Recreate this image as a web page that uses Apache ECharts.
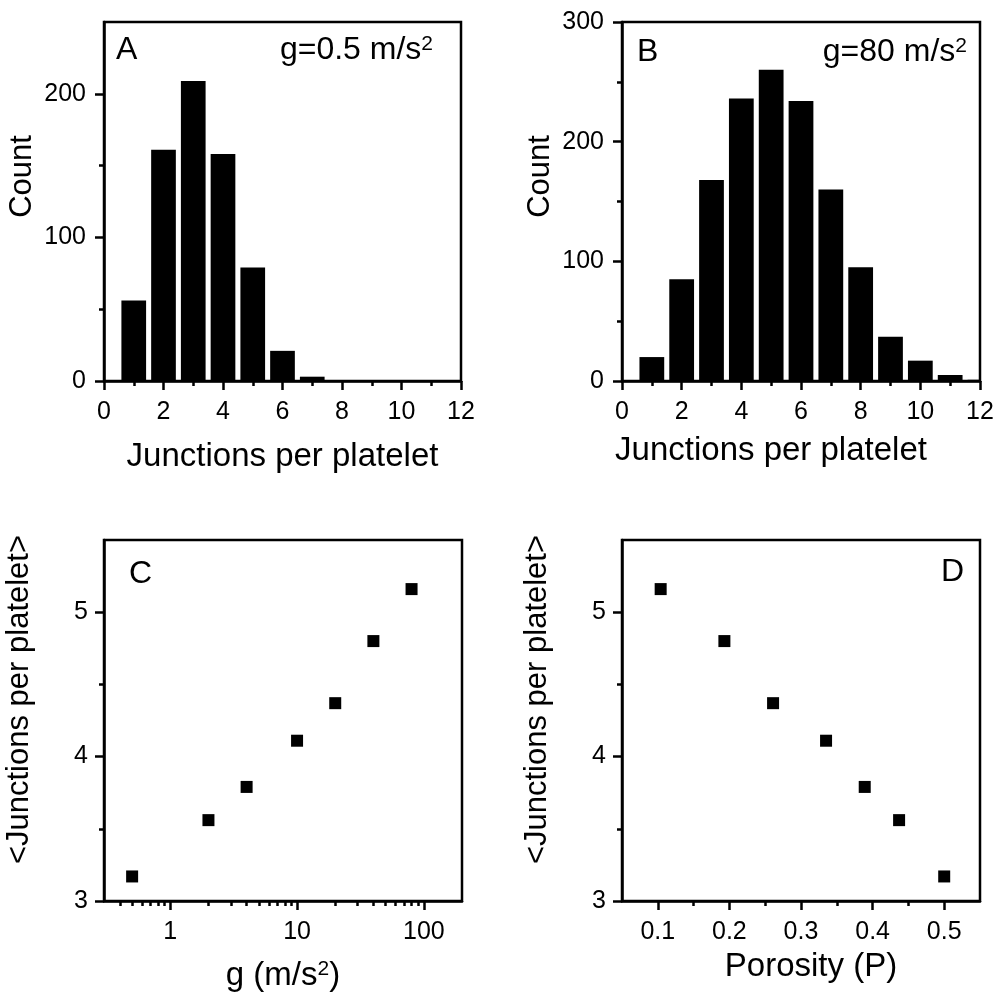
<!DOCTYPE html>
<html><head><meta charset="utf-8">
<script src="https://cdn.jsdelivr.net/npm/echarts@6/dist/echarts.min.js"></script>
<style>html,body{margin:0;padding:0;background:#fff}#c{width:997px;height:995px}</style>
</head><body><div id="c"></div>
<script>
// ---------- data ----------
const junctionBins = [1,2,3,4,5,6,7,8,9,10,11,12];
const countsA = [56,161,209,158,79,21,3,0,0,0,0,0];
const countsB = [20,85,168,236,260,234,160,95,37,17,5,1];
const gValues = [0.5,2,4,10,20,40,80];
const meanJunctionsC = [3.17,3.56,3.79,4.11,4.37,4.80,5.16];
const porosity = [0.104,0.193,0.261,0.335,0.389,0.437,0.500];
const meanJunctionsD = [5.16,4.80,4.37,4.11,3.79,3.56,3.17];

// ---------- ticks ----------
const histXMajor = [0,2,4,6,8,10,12];
const histXMinor = [1,3,5,7,9,11];
const countAMajor = [0,100,200];
const countAMinor = [50,150];
const countBMajor = [0,100,200,300];
const countBMinor = [50,150,250];
const gMajor = [1,10,100];
const gMinor = [0.4,0.5,0.6,0.7,0.8,0.9,2,3,4,5,6,7,8,9,20,30,40,50,60,70,80,90];
const meanMajor = [3,4,5];
const meanMinor = [3.5,4.5];
const porMajor = [0.1,0.2,0.3,0.4,0.5];
const porMinor = [0.15,0.25,0.35,0.45];

// axis ranges
const histXRange = [0,12];
const countARange = [0,250];
const countBRange = [0,300];
const gRange = [0.3,200];
const meanRange = [3,5.5];
const porRange = [0.05,0.55];

const FONT = "'Liberation Sans', Arial, Helvetica, sans-serif";
const TICK_FS = 25, TITLE_FS = 33, YTITLE_FS = 31, ANN_FS = 32;
const MAJOR_LEN = 9, MINOR_LEN = 5, LW = 2.5;
const BAR_FRAC = 0.83; // bar width as fraction of one bin

function fmt(majors){
  return function(v){
    for (const m of majors){ if (Math.abs(m - v) < 1e-6*Math.max(1,Math.abs(m))) return String(m); }
    return '';
  };
}
function mainAxis(gi, pos, type, range, majors, labelMargin, extra){
  const ax = {
    gridIndex: gi, position: pos, type: type, min: range[0], max: range[1],
    splitLine: {show:false},
    minorTick: {show:false},
    axisLine: {show:true, onZero:false, lineStyle:{color:'#000', width:LW}},
    axisTick: {show:true, inside:false, length:MAJOR_LEN, customValues: majors,
               lineStyle:{color:'#000', width:LW}},
    axisLabel: {show:true, color:'#000', fontFamily: FONT, fontSize: TICK_FS, margin: labelMargin,
                customValues: majors, formatter: fmt(majors)},
    nameLocation: 'middle',
    nameMoveOverlap: false,
    nameTextStyle: {color:'#000', fontFamily: FONT, fontSize: TITLE_FS}
  };
  if (type === 'log') ax.logBase = 10;
  return Object.assign(ax, extra || {});
}
function minorAxis(gi, pos, type, range, minors){
  const ax = {
    gridIndex: gi, position: pos, type: type, min: range[0], max: range[1],
    splitLine: {show:false}, minorTick: {show:false},
    axisLine: {show:false, onZero:false},
    axisTick: {show:true, inside:false, length:MINOR_LEN, customValues: minors,
               lineStyle:{color:'#000', width:LW}},
    axisLabel: {show:false}
  };
  if (type === 'log') ax.logBase = 10;
  return ax;
}
function histSeries(idx, counts){
  return {
    type:'custom', xAxisIndex: idx, yAxisIndex: idx, clip: true,
    data: junctionBins.map((b,i)=>[b, counts[i]]),
    encode: {x: 0, y: 1},
    renderItem: function(params, api){
      const x = api.value(0), y = api.value(1);
      const p0 = api.coord([x - BAR_FRAC/2, y]);
      const p1 = api.coord([x + BAR_FRAC/2, 0]);
      const cs = params.coordSys;
      const rect = echarts.graphic.clipRectByRect(
        {x: p0[0], y: p0[1], width: p1[0]-p0[0], height: p1[1]-p0[1]},
        {x: cs.x, y: cs.y, width: cs.width, height: cs.height});
      return rect && {type:'rect', shape: rect, style: {fill:'#000'}};
    }
  };
}
const gridBox = {show:true, borderColor:'#000', borderWidth:LW, backgroundColor:'transparent', containLabel:false, outerBoundsMode:'none'};

const supRich = {
  m: {fontFamily: FONT, fontSize: TITLE_FS, color:'#000', lineHeight: 34},
  s: {fontFamily: FONT, fontSize: 21, color:'#000', verticalAlign:'top', lineHeight: 21}
};
const annRich = {
  m: {fontFamily: FONT, fontSize: ANN_FS, color:'#000', lineHeight: 32},
  s: {fontFamily: FONT, fontSize: 21, color:'#000', verticalAlign:'top', lineHeight: 21}
};

const option = {
  animation: false,
  backgroundColor: '#fff',
  grid: [
    Object.assign({left:104, top:22, width:357, height:359}, gridBox),
    Object.assign({left:622, top:22, width:358, height:359}, gridBox),
    Object.assign({left:104, top:540, width:358, height:361}, gridBox),
    Object.assign({left:622, top:540, width:358, height:361}, gridBox)
  ],
  xAxis: [
    mainAxis(0,'bottom','value',histXRange,histXMajor,19,{name:'Junctions per platelet', nameGap:59}),
    mainAxis(1,'bottom','value',histXRange,histXMajor,19,{name:'Junctions per platelet', nameGap:53,
      nameTextStyle:{color:'#000', fontFamily: FONT, fontSize: TITLE_FS, padding:[0,60,0,0]}}),
    mainAxis(2,'bottom','log',gRange,gMajor,19,{name:'{m|g (m/s}{s|2}{m|)}', nameGap:58,
      nameTextStyle:{color:'#000', fontFamily: FONT, fontSize: TITLE_FS, rich: supRich}}),
    mainAxis(3,'bottom','value',porRange,porMajor,19,{name:'Porosity (P)', nameGap:49,
      nameTextStyle:{color:'#000', fontFamily: FONT, fontSize: TITLE_FS, padding:[0,0,0,20]}}),
    minorAxis(0,'bottom','value',histXRange,histXMinor),
    minorAxis(1,'bottom','value',histXRange,histXMinor),
    minorAxis(2,'bottom','log',gRange,gMinor),
    minorAxis(3,'bottom','value',porRange,porMinor)
  ],
  yAxis: [
    mainAxis(0,'left','value',countARange,countAMajor,18,{name:'Count', nameGap:66,
      nameTextStyle:{color:'#000', fontFamily: FONT, fontSize: YTITLE_FS, padding:[0,0,0,50]}}),
    mainAxis(1,'left','value',countBRange,countBMajor,18,{name:'Count', nameGap:66,
      nameTextStyle:{color:'#000', fontFamily: FONT, fontSize: YTITLE_FS, padding:[0,0,0,50]}}),
    mainAxis(2,'left','value',meanRange,meanMajor,16,{name:'<Junctions per platelet>', nameGap:69,
      nameTextStyle:{color:'#000', fontFamily: FONT, fontSize: YTITLE_FS, padding:[0,0,0,42]}}),
    mainAxis(3,'left','value',meanRange,meanMajor,16,{name:'<Junctions per platelet>', nameGap:69,
      nameTextStyle:{color:'#000', fontFamily: FONT, fontSize: YTITLE_FS, padding:[0,0,0,42]}}),
    minorAxis(0,'left','value',countARange,countAMinor),
    minorAxis(1,'left','value',countBRange,countBMinor),
    minorAxis(2,'left','value',meanRange,meanMinor),
    minorAxis(3,'left','value',meanRange,meanMinor)
  ],
  series: [
    histSeries(0, countsA),
    histSeries(1, countsB),
    {type:'scatter', xAxisIndex:2, yAxisIndex:2, symbol:'rect', symbolSize:12, itemStyle:{color:'#000', opacity:1},
     data: gValues.map((g,i)=>[g, meanJunctionsC[i]])},
    {type:'scatter', xAxisIndex:3, yAxisIndex:3, symbol:'rect', symbolSize:12, itemStyle:{color:'#000', opacity:1},
     data: porosity.map((p,i)=>[p, meanJunctionsD[i]])}
  ],
  graphic: [
    {type:'text', x:116, y:34, style:{text:'A', font: ANN_FS+'px '+FONT, fill:'#000', align:'left', verticalAlign:'top'}},
    {type:'text', x:433, y:34, style:{text:'{m|g=0.5 m/s}{s|2}', rich: annRich, align:'right', verticalAlign:'top'}},
    {type:'text', x:637, y:36, style:{text:'B', font: ANN_FS+'px '+FONT, fill:'#000', align:'left', verticalAlign:'top'}},
    {type:'text', x:967, y:36, style:{text:'{m|g=80 m/s}{s|2}', rich: annRich, align:'right', verticalAlign:'top'}},
    {type:'text', x:129, y:558, style:{text:'C', font: ANN_FS+'px '+FONT, fill:'#000', align:'left', verticalAlign:'top'}},
    {type:'text', x:964, y:556, style:{text:'D', font: ANN_FS+'px '+FONT, fill:'#000', align:'right', verticalAlign:'top'}}
  ]
};
const chart = echarts.init(document.getElementById('c'), null, {renderer:'canvas'});
chart.setOption(option);
</script></body></html>
